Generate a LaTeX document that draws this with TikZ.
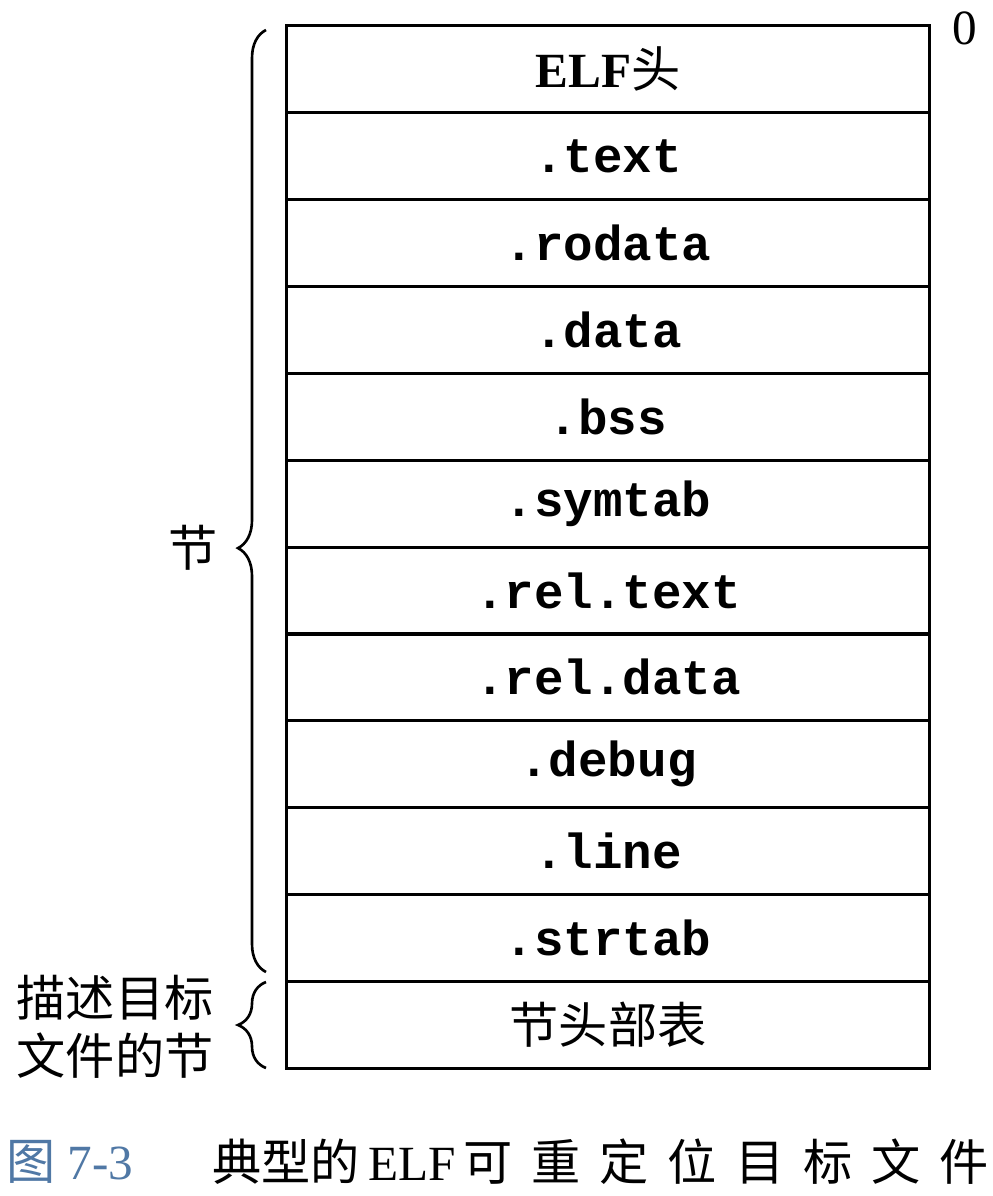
\documentclass[tikz,border=0pt]{standalone}
\usepackage{fontspec}
\setmainfont{Liberation Serif}
\setmonofont{Liberation Mono}
\newfontfamily\cjk{Noto Sans CJK SC}
\newfontfamily\cjkwide{Noto Sans CJK SC}[LetterSpace=38]
\usetikzlibrary{decorations.pathreplacing}
\definecolor{capblue}{RGB}{80,120,165}

\begin{document}
\begin{tikzpicture}[x=0.02cm, y=-0.02cm,
    sect/.style={draw, line width=1.5pt, minimum width=12.86cm, minimum height=1.74cm,
      inner sep=0pt, font=\fontsize{28}{32}\selectfont\ttfamily\bfseries},
    curly/.style={decorate, decoration={brace, amplitude=0.56cm}, line width=1.5pt},
    lbl/.style={font=\fontsize{28}{33}\selectfont\cjk}]
  \useasboundingbox (0,0) rectangle (992,1196);

  % sections of the object file
  \node[sect] (elf)     at (608,69)   {{\rmfamily ELF}{\mdseries\cjk 头}};
  \node[sect] (text)    at (608,156)  {.text};
  \node[sect] (rodata)  at (608,243)  {.rodata};
  \node[sect] (data)    at (608,330)  {.data};
  \node[sect] (bss)     at (608,417)  {.bss};
  \node[sect] (symtab)  at (608,504)  {.symtab};
  \node[sect] (reltext) at (608,591)  {.rel.text};
  \node[sect] (reldata) at (608,677)  {.rel.data};
  \node[sect] (debug)   at (608,764)  {.debug};
  \node[sect] (line)    at (608,851)  {.line};
  \node[sect] (strtab)  at (608,938)  {.strtab};
  \node[sect] (shdr)    at (608,1025) {{\mdseries\cjk 节头部表}};

  \node[font=\fontsize{28}{32}\selectfont] (zero) at (965,28) {0};

  % braces on the left
  \coordinate (secbot) at (266,972);
  \coordinate (sectop) at (266,30);
  \coordinate (hdrbot) at (266,1068);
  \coordinate (hdrtop) at (266,982);
  \draw[curly, decoration={aspect=0.45}] (secbot) -- (sectop);
  \draw[curly] (hdrbot) -- (hdrtop);

  \node[lbl] (seclbl) at (193,548) {节};
  \node[lbl, align=center] (hdrlbl) at (115,1027) {描述目标\\文件的节};

  % caption
  \node[anchor=west, text=capblue, font=\fontsize{28}{32}\selectfont] (fignum) at (0,1162)
    {{\cjk 图} 7-3};
  \node[anchor=west, inner sep=0pt, font=\fontsize{28}{32}\selectfont] (figtitle) at (212,1162)
    {{\cjk 典型的}\,ELF\,{\cjkwide 可重定位目标文\/}{\cjk 件}};
\end{tikzpicture}
\end{document}
